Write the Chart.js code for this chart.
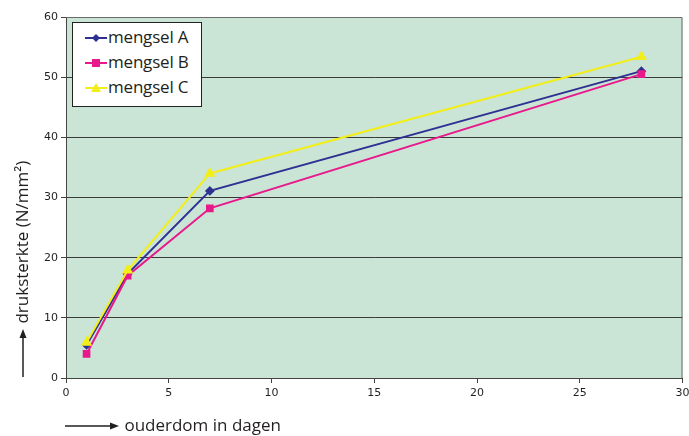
<!DOCTYPE html>
<html><head><meta charset="utf-8">
<script src="https://cdn.jsdelivr.net/npm/chart.js@4"></script>
<style>
html,body{margin:0;padding:0;background:#fff;}
#wrap{position:relative;width:689px;height:436px;overflow:hidden;}
canvas{position:absolute;left:0;top:0;}
.lg{position:absolute;left:72px;top:22px;width:130px;height:85px;background:#fff;border:1px solid #222;box-sizing:border-box;font-family:"Open Sans",sans-serif;font-size:17px;color:#231f20;letter-spacing:-0.2px;}
.row{position:absolute;left:12px;height:20px;line-height:20px;white-space:nowrap;}
.row svg{vertical-align:middle;margin-right:1px;}
.xt{position:absolute;left:64px;top:415px;font-family:"Open Sans",sans-serif;font-size:17px;color:#231f20;white-space:nowrap;line-height:20px;}
.yt{position:absolute;left:12px;top:378px;transform-origin:0 0;transform:rotate(-90deg);font-family:"Open Sans",sans-serif;font-size:17px;color:#231f20;white-space:nowrap;line-height:20px;}
</style></head>
<body><div id="wrap"><canvas id="c" width="689" height="436"></canvas>
<div class="lg">
 <div class="row" style="top:4px"><svg width="22" height="12"><line x1="0" y1="6" x2="22" y2="6" stroke="#2e3192" stroke-width="2"/><polygon points="11,2 15,6 11,10 7,6" fill="#2e3192"/></svg><span id="l0"></span></div>
 <div class="row" style="top:29px"><svg width="22" height="12"><line x1="0" y1="6" x2="22" y2="6" stroke="#e8198b" stroke-width="2"/><rect x="7" y="2" width="8" height="8" fill="#e8198b"/></svg><span id="l1"></span></div>
 <div class="row" style="top:54px"><svg width="22" height="12"><line x1="0" y1="6" x2="22" y2="6" stroke="#f2ee1a" stroke-width="2"/><polygon points="11,1 16,10 6,10" fill="#f2ee1a"/></svg><span id="l2"></span></div>
</div>
<div class="xt"><svg width="56" height="12" style="vertical-align:middle"><line x1="1" y1="6" x2="48" y2="6" stroke="#231f20" stroke-width="1.3"/><polygon points="55,6 46,2.5 46,9.5" fill="#231f20"/></svg> <span id="xtitle"></span></div>
<div class="yt"><svg width="50" height="12" style="vertical-align:middle"><line x1="1" y1="6" x2="42" y2="6" stroke="#231f20" stroke-width="1.3"/><polygon points="49,6 40,2.5 40,9.5" fill="#231f20"/></svg> <span id="ytitle"></span></div>
</div>
<script>
const days = [1, 3, 7, 28];
const seriesNames = ["mengsel A", "mengsel B", "mengsel C"];
const mengselA = [5.5, 17.3, 31.1, 51.0];
const mengselB = [4.0, 17.0, 28.2, 50.5];
const mengselC = [5.9, 17.9, 34.0, 53.4];
const xTitle = "ouderdom in dagen";
const yTitle = "druksterkte (N/mm²)";

document.getElementById('l0').textContent = seriesNames[0];
document.getElementById('l1').textContent = seriesNames[1];
document.getElementById('l2').textContent = seriesNames[2];
document.getElementById('xtitle').textContent = xTitle;
document.getElementById('ytitle').textContent = yTitle;

const pts = arr => days.map((d,i)=>({x:d,y:arr[i]}));
const bg = {id:'bg',beforeDraw(ch){const a=ch.chartArea,c=ch.ctx;c.save();c.fillStyle='#cae4d6';c.fillRect(a.left,a.top,a.right-a.left,a.bottom-a.top);c.restore();},
 afterDraw(ch){const a=ch.chartArea,c=ch.ctx;c.save();c.strokeStyle='#6b6b6b';c.lineWidth=1;c.beginPath();c.moveTo(a.left,a.top+0.5);c.lineTo(a.right-0.5,a.top+0.5);c.lineTo(a.right-0.5,a.bottom);c.stroke();c.restore();}};
new Chart(document.getElementById('c'), {
  type:'line',
  data:{datasets:[
    {label:seriesNames[2],data:pts(mengselC),borderColor:'#f2ee1a',backgroundColor:'#f2ee1a',borderWidth:2,pointStyle:'triangle',pointRadius:4.5,tension:0},
    {label:seriesNames[1],data:pts(mengselB),borderColor:'#e8198b',backgroundColor:'#e8198b',borderWidth:2,pointStyle:'rect',pointRadius:4,tension:0},
    {label:seriesNames[0],data:pts(mengselA),borderColor:'#2e3192',backgroundColor:'#2e3192',borderWidth:2,pointStyle:'rectRot',pointRadius:3.5,tension:0}
  ]},
  options:{responsive:false,animation:false,
    layout:{padding:{left:0,right:5,top:17,bottom:0}},
    plugins:{legend:{display:false},tooltip:{enabled:false}},
    scales:{
      x:{type:'linear',min:0,max:30,
        ticks:{stepSize:5,color:'#231f20',font:{family:'"DejaVu Sans"',size:11},padding:4},
        grid:{drawOnChartArea:false,color:'#444',tickLength:5},
        border:{color:'#444',width:1},
        afterFit(s){s.height=58;s.paddingRight=0;s.paddingLeft=0;}},
      y:{min:0,max:60,
        ticks:{stepSize:10,color:'#231f20',font:{family:'"DejaVu Sans"',size:11},padding:3},
        grid:{color:(c)=>c.tick.value===60?'rgba(0,0,0,0)':'#3a3a3a',tickColor:'#444',tickLength:5},
        border:{color:'#444',width:1},
        afterFit(s){s.width=66;s.paddingTop=0;s.paddingBottom=0;}}
    }},
  plugins:[bg]
});
</script></body></html>
